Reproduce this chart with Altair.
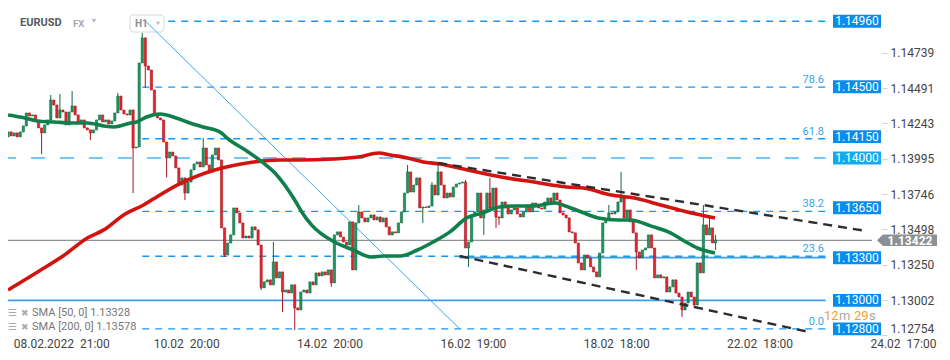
import altair as alt
import pandas as pd

# ---------------- data ----------------
first_open = 1.14148
closes = [
    1.14183, 1.14155, 1.14176, 1.14148, 1.14183, 1.14225, 1.14316, 1.14295, 1.14302, 1.14260,
    1.14211, 1.14176, 1.14232, 1.14267, 1.14407, 1.14372, 1.14281, 1.14337, 1.14323, 1.14232,
    1.14323, 1.14365, 1.14302, 1.14246, 1.14267, 1.14211, 1.14197, 1.14176, 1.14197, 1.14267,
    1.14302, 1.14253, 1.14267, 1.14239, 1.14260, 1.14316, 1.14435, 1.14337, 1.14309, 1.14302,
    1.14337, 1.14070, 1.14077, 1.14667, 1.14843, 1.14646, 1.14618, 1.14477, 1.14302, 1.14281,
    1.14267, 1.14112, 1.14000, 1.14042, 1.14014, 1.13930, 1.13810, 1.13860, 1.13754, 1.13831,
    1.13916, 1.13958, 1.13972, 1.13937, 1.14070, 1.13951, 1.13902, 1.14021, 1.14070, 1.13986,
    1.13509, 1.13319, 1.13403, 1.13460, 1.13649, 1.13614, 1.13544, 1.13438, 1.13452, 1.13438,
    1.13516, 1.13495, 1.13389, 1.13088, 1.13130, 1.13144, 1.13109, 1.13270, 1.13158, 1.13200,
    1.13059, 1.13073, 1.13052, 1.13109, 1.12947, 1.12933, 1.13059, 1.13073, 1.13052, 1.13130,
    1.13109, 1.13193, 1.13172, 1.13200, 1.13179, 1.13214, 1.13123, 1.13460, 1.13481, 1.13445,
    1.13410, 1.13389, 1.13551, 1.13214, 1.13544, 1.13621, 1.13579, 1.13551, 1.13579, 1.13600,
    1.13565, 1.13586, 1.13551, 1.13579, 1.13516, 1.13460, 1.13481, 1.13474, 1.13544, 1.13621,
    1.13754, 1.13902, 1.13761, 1.13810, 1.13860, 1.13649, 1.13656, 1.13652, 1.13663, 1.13810,
    1.13740, 1.13902, 1.13810, 1.13719, 1.13754, 1.13726, 1.13796, 1.13817, 1.13824, 1.13831,
    1.13368, 1.13410, 1.13600, 1.13621, 1.13754, 1.13579, 1.13635, 1.13754, 1.13649, 1.13789,
    1.13586, 1.13579, 1.13691, 1.13649, 1.13607, 1.13635, 1.13649, 1.13607, 1.13586, 1.13621,
    1.13670, 1.13621, 1.13684, 1.13670, 1.13649, 1.13642, 1.13691, 1.13719, 1.13691, 1.13754,
    1.13705, 1.13614, 1.13600, 1.13579, 1.13481, 1.13474, 1.13403, 1.13263, 1.13214, 1.13319,
    1.13298, 1.13235, 1.13200, 1.13165, 1.13333, 1.13544, 1.13565, 1.13614, 1.13607, 1.13621,
    1.13691, 1.13726, 1.13579, 1.13635, 1.13551, 1.13474, 1.13340, 1.13298, 1.13354, 1.13368,
    1.13460, 1.13368, 1.13158, 1.13179, 1.13158, 1.13165, 1.13059, 1.13095, 1.13144, 1.13052,
    1.13024, 1.12933, 1.12982, 1.13059, 1.13024, 1.12968, 1.13263, 1.13193, 1.13530, 1.13460,
    1.13509, 1.13403, 1.13424,
]
high_idx = [14, 17, 21, 36, 44, 64, 87, 115, 131, 139, 141, 150, 158, 197, 201, 228, 230, 232]
high_val = [1.14442, 1.14449, 1.14470, 1.14456, 1.14878, 1.14141, 1.13410, 1.13670, 1.13951,
            1.13831, 1.13951, 1.13846, 1.13860, 1.13670, 1.13902, 1.13670, 1.13579, 1.13460]
low_idx = [11, 27, 41, 45, 52, 58, 71, 83, 90, 94, 106, 136, 151, 156, 160, 161, 206, 221, 225, 232]
low_val = [1.14028, 1.14126, 1.13754, 1.14492, 1.13863, 1.13705, 1.13305, 1.13073, 1.12919, 1.12792,
           1.13095, 1.13544, 1.13235, 1.13460, 1.13509, 1.13530, 1.13214, 1.12884, 1.12947, 1.13354]

sma50_idx = [0, 5.5, 9.7, 15.2, 20.7, 26, 31.4, 34.7, 40.2, 42.2, 45.4, 49.9, 55.1, 59.6, 63.9,
             69.4, 72.6, 77.8, 83.3, 87.5, 94, 96.3, 99.5, 107, 112.5, 119, 123.2, 128.7, 134.2,
             139.4, 144.9, 150.4, 155.6, 161.1, 166.6, 171.8, 179.6, 182.8, 188, 193.5, 200,
             204.2, 210.7, 217.2, 221.7, 226, 231.8]
sma50_val = [1.14302, 1.14281, 1.14260, 1.14253, 1.14246, 1.14246, 1.14225, 1.14218, 1.14246,
             1.14253, 1.14288, 1.14309, 1.14281, 1.14246, 1.14218, 1.14183, 1.14126, 1.14056,
             1.13972, 1.13895, 1.13705, 1.13621, 1.13530, 1.13410, 1.13361, 1.13305, 1.13312,
             1.13312, 1.13354, 1.13410, 1.13481, 1.13579, 1.13614, 1.13656, 1.13663, 1.13663,
             1.13684, 1.13663, 1.13621, 1.13579, 1.13565, 1.13565, 1.13523, 1.13474, 1.13417,
             1.13368, 1.13333]
sma200_idx = [0, 9.7, 18.5, 26, 31.4, 37.9, 44.4, 47.6, 56.7, 67.8, 78.4, 89.1, 94.6, 107, 114.8,
              121.6, 125.4, 131, 136.1, 141.7, 150.7, 161.7, 172.4, 183.1, 188.7, 197.7, 205.5,
              214, 222.7, 231.8]
sma200_val = [1.13073, 1.13200, 1.13319, 1.13438, 1.13495, 1.13600, 1.13670, 1.13712, 1.13824,
              1.13916, 1.13965, 1.13986, 1.13986, 1.13993, 1.14007, 1.14035, 1.14021, 1.14000,
              1.13972, 1.13958, 1.13916, 1.13867, 1.13831, 1.13796, 1.13789, 1.13740, 1.13719,
              1.13670, 1.13621, 1.13579]

fib_levels = [1.14960, 1.14498, 1.14135, 1.13625, 1.13310, 1.12800]
fib_names = ["", "78.6", "61.8", "38.2", "23.6", "0.0"]
fib_from, fib_to = 44, 268.1
solid_levels = [1.13000, 1.13300]
solid_from = [-2, 148]
long_dash_level = 1.14000
last_price = 1.13422
diag_idx = [45.1, 148.1]
diag_val = [1.14960, 1.12800]
upper_idx = [141, 280.4]
upper_val = [1.13965, 1.13491]
lower_idx = [148.1, 262.6]
lower_val = [1.13312, 1.12778]
fib_box_prices = [1.14960, 1.14500, 1.14150, 1.13650, 1.13300, 1.13000, 1.12800]
level_box_prices = [1.14000]
y_ticks = [1.14739, 1.14491, 1.14243, 1.13995, 1.13746, 1.13498, 1.13250, 1.13002, 1.12754]
x_tick_idx = [1.7, 47.6, 94.6, 141.6, 188.6, 235.6, 282.6]
x_tick_lab = ["08.02.2022  21:00", "10.02  20:00", "14.02  20:00", "16.02  19:00",
              "18.02  18:00", "22.02  18:00", "24.02  17:00"]
sma_legend = ["SMA [50, 0] 1.13328", "SMA [200, 0] 1.13578"]

# ---------------- tables ----------------
opens = [first_open] + closes[:-1]
hmap = dict(zip(high_idx, high_val))
lmap = dict(zip(low_idx, low_val))
rows = []
for i, (o, c) in enumerate(zip(opens, closes)):
    hi = max(o, c, hmap.get(i, 0))
    lo = min(o, c, lmap.get(i, 9))
    rows.append({"idx": i, "open": o, "close": c, "high": hi, "low": lo,
                 "dir": "up" if c >= o else "down"})
candles = pd.DataFrame(rows)

FONT = "Roboto"
xs = alt.Scale(domain=[1.621, 284.93], nice=False, zero=False)
ys = alt.Scale(domain=[1.12750, 1.15039], nice=False, zero=False)

lab_expr = ""
for v, l in zip(x_tick_idx, x_tick_lab):
    lab_expr += f"abs(datum.value - {v}) < 1 ? '{l.replace('  ', chr(160) * 2)}' : "
lab_expr += "''"

xaxis = alt.Axis(values=x_tick_idx, labelExpr=lab_expr, labelAlign="left", labelFlush=False,
                 ticks=False, domain=False, grid=False, labelPadding=2, labelBaseline="top",
                 labelColor="#444", labelFontSize=12, labelFont=FONT, title=None)
yaxis = alt.Axis(values=y_ticks, format=".5f", orient="right", ticks=True, tickSize=5,
                 tickColor="#d0d0d0", domain=False, grid=False, labelPadding=3,
                 labelFlush=4, labelColor="#444", labelFontSize=12, labelFont=FONT, title=None)

X = lambda f: alt.X(f, type="quantitative", scale=xs, axis=xaxis)
Y = lambda f: alt.Y(f, type="quantitative", scale=ys, axis=yaxis)

one = pd.DataFrame({"a": [0]})

def seg_df(levels, starts, ends):
    out = []
    for k, (p, s, e) in enumerate(zip(levels, starts, ends)):
        out.append({"seg": k, "x": s, "p": p})
        out.append({"seg": k, "x": e, "p": p})
    return pd.DataFrame(out)

fib_df = seg_df(fib_levels, [fib_from] * len(fib_levels), [fib_to] * len(fib_levels))
solid_df = seg_df(solid_levels, solid_from, [fib_to] * len(solid_levels))
long_df = seg_df([long_dash_level], [-2], [fib_to])
last_df = seg_df([last_price], [-2], [283.3])

def line_layer(df, color, width, dash=None):
    kw = dict(color=color, strokeWidth=width, clip=True)
    if dash:
        kw["strokeDash"] = dash
    return alt.Chart(df).mark_line(**kw).encode(x=X("x"), y=Y("p"), detail="seg:N")

fib_layer = line_layer(fib_df, "#1598ee", 1.3, [7, 6])
long_layer = line_layer(long_df, "#4cb4f5", 1.5, [14, 15])
solid_layer = line_layer(solid_df, "#3a9df0", 1.7)
last_layer = alt.Chart(last_df).mark_line(color="#8e9396", strokeWidth=1.2).encode(
    x=X("x"), y=Y("p"), detail="seg:N")

diag_layer = alt.Chart(pd.DataFrame({"x": diag_idx, "p": diag_val})).mark_line(
    color="#36aaf2", strokeWidth=1, clip=True).encode(x=X("x"), y=Y("p"))

trend_df = pd.DataFrame({"x": upper_idx + lower_idx, "p": upper_val + lower_val,
                         "seg": ["u", "u", "l", "l"]})
trend_layer = alt.Chart(trend_df).mark_line(color="#2b2d30", strokeWidth=2.4,
                                            strokeDash=[9, 6], clip=True).encode(
    x=X("x"), y=Y("p"), detail="seg:N")

dir_fill = alt.Scale(domain=["up", "down"], range=["#1f9860", "#e3262f"])
dir_stroke = alt.Scale(domain=["up", "down"], range=["#0e6a3e", "#a8151d"])

wicks = alt.Chart(candles).mark_rule(strokeWidth=1, clip=True).encode(
    x=X("idx"), y=Y("low"), y2="high",
    color=alt.Color("dir:N", scale=dir_stroke, legend=None))
bodies = alt.Chart(candles).mark_bar(size=2.2, strokeWidth=0.6, clip=True).encode(
    x=X("idx"), y=Y("open"), y2="close",
    fill=alt.Fill("dir:N", scale=dir_fill, legend=None),
    stroke=alt.Stroke("dir:N", scale=dir_stroke, legend=None))

sma50 = alt.Chart(pd.DataFrame({"x": sma50_idx, "p": sma50_val})).mark_line(
    color="#0f7f4c", strokeWidth=3.6, interpolate="monotone", clip=True).encode(x=X("x"), y=Y("p"))
sma200 = alt.Chart(pd.DataFrame({"x": sma200_idx, "p": sma200_val})).mark_line(
    color="#d3130f", strokeWidth=3.6, interpolate="monotone", clip=True).encode(x=X("x"), y=Y("p"))

# right price boxes
box_path = "M-1,-0.27L1,-0.27L1,0.27L-1,0.27Z"

def box_layers(prices, color):
    df = pd.DataFrame({"p": prices, "t": [f"{v:.5f}" for v in prices]})
    b = alt.Chart(df).mark_point(shape=box_path, size=2304, filled=True, opacity=1,
                                 color=color, strokeWidth=0).encode(x=alt.value(849), y=Y("p"))
    t = alt.Chart(df).mark_text(color="white", fontSize=12, font=FONT, align="center",
                                baseline="middle").encode(x=alt.value(849), y=Y("p"), text="t:N")
    return [b, t]

fib_lab_df = pd.DataFrame({"p": fib_levels, "t": fib_names})
fib_text = alt.Chart(fib_lab_df).mark_text(color="#33a5ef", fontSize=11, font=FONT,
                                           align="right", baseline="bottom", dy=-2).encode(
    x=alt.value(816), y=Y("p"), text="t:N")

cur_path = "M-1,0L-0.8,-0.19L1,-0.19L1,0.19L-0.8,0.19Z"
cur_df = pd.DataFrame({"p": [last_price], "t": [f"{last_price:.5f}"]})
cur_box = alt.Chart(cur_df).mark_point(shape=cur_path, size=3600, filled=True, opacity=1,
                                       color="#8b9094", strokeWidth=0).encode(
    x=alt.value(899), y=Y("p"))
cur_text = alt.Chart(cur_df).mark_text(color="white", fontSize=12, fontWeight="bold", font=FONT,
                                       align="center", baseline="middle", dx=3, dy=0.5).encode(
    x=alt.value(899), y=Y("p"), text="t:N")

def txt(t, x, y, size, color, weight="normal", align="left"):
    return alt.Chart(one).mark_text(text=t, fontSize=size, color=color, fontWeight=weight,
                                    font=FONT, align=align, baseline="middle").encode(
        x=alt.value(x), y=alt.value(y))

def tri(x, y, size=22, color="#b8bcc0"):
    return alt.Chart(one).mark_point(shape="triangle-down", filled=True, size=size, color=color,
                                     opacity=1).encode(x=alt.value(x), y=alt.value(y))

h1_box = alt.Chart(one).mark_rect(fill="white", stroke="#d8dadc", strokeWidth=1,
                                  cornerRadius=3).encode(
    x=alt.value(122), x2=alt.value(156), y=alt.value(5), y2=alt.value(22))

header = [
    txt("EURUSD", 12, 13, 11, "#555a60", "bold"),
    txt("FX", 65, 14, 9.5, "#a4a8ac", "bold"),
    tri(86, 11),
    h1_box,
    txt("H1", 127, 14, 10, "#8a8e92", "bold"),
    tri(150, 13.5, 18),
]

legend = [
    txt("\u2630", 0, 303, 10, "#aaaaaa"),
    txt("\u2716", 13, 303, 9, "#aaaaaa"),
    txt(sma_legend[0], 24, 303, 11, "#777777"),
    txt("\u2630", 0, 317, 10, "#aaaaaa"),
    txt("\u2716", 13, 317, 9, "#aaaaaa"),
    txt(sma_legend[1], 24, 317, 11, "#777777"),
]

timer = [
    txt("12", 816, 305.5, 13, "#f5a02e"),
    txt("m", 831, 305.5, 13, "#a8a8a8"),
    txt("29", 846, 305.5, 13, "#f5a02e"),
    txt("s", 861, 305.5, 13, "#a8a8a8"),
]

chart = alt.layer(
    long_layer, fib_layer, solid_layer, last_layer,
    *header,
    diag_layer, wicks, bodies, sma200, sma50, trend_layer,
    *box_layers(fib_box_prices, "#0a8cef"), *box_layers(level_box_prices, "#14aaf0"),
    fib_text, cur_box, cur_text,
    *legend, *timer,
).properties(
    width=874, height=326,
    autosize=alt.AutoSizeParams(type="none"),
    padding={"left": 0, "top": 2, "right": 58, "bottom": 14},
    background="white",
).configure_view(stroke=None)

chart.save("out.html", embed_options={"renderer": "svg", "actions": False})
